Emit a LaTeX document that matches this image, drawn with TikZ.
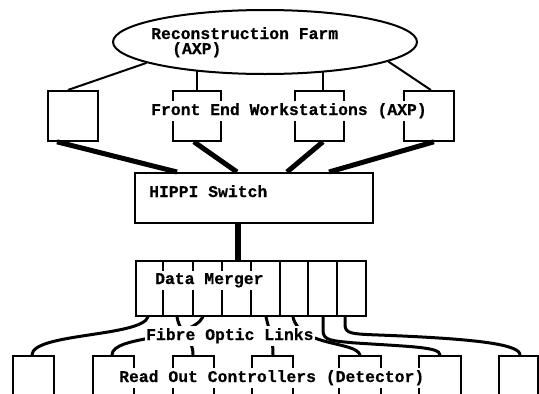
\documentclass[tikz,border=0pt]{standalone}
\usepackage{fontspec}
\newfontfamily\courfont{Liberation Mono}[BoldFeatures={FakeBold=0.6}]
\usetikzlibrary{calc,backgrounds,shapes.geometric}
\tikzset{
  box/.style={draw, line width=1.8pt, anchor=north west, inner sep=0pt},
  lbl/.style={font=\courfont\bfseries\fontsize{16.4}{17}\selectfont, anchor=base west,
              inner xsep=1pt, inner ysep=2.5pt},
  lblw/.style={lbl, fill=white},
  tight/.style={inner ysep=0pt},
  thin link/.style={line width=2pt},
  fat link/.style={line width=5pt},
  fibre/.style={line width=3pt, line cap=round},
}
\begin{document}
\begin{tikzpicture}[x=1pt,y=-1pt]
\useasboundingbox (0,0) rectangle (539,394);
\clip (0,0) rectangle (539,394);

% reconstruction farm
\node[draw, ellipse, line width=2pt, fill=white, minimum width=304pt, minimum height=64pt,
      inner sep=0pt] (farm) at (265,42) {};
\node[lbl, tight] (farmtxt) at (150,39) {Reconstruction Farm};
\node[lbl, tight] (farmaxp) at (171,54) {(AXP)};

% front end workstations
\node[box, minimum width=50pt, minimum height=50pt] (ws1) at (47,90) {};
\node[box, minimum width=48pt, minimum height=50pt] (ws2) at (172,90) {};
\node[box, minimum width=49pt, minimum height=50pt] (ws3) at (294,90) {};
\node[box, minimum width=50pt, minimum height=50pt] (ws4) at (403,90) {};
\node[lblw] (wstxt) at (150,115) {Front End Workstations (AXP)};

% HIPPI switch
\node[box, minimum width=238pt, minimum height=50pt] (hippi) at (134,172) {};
\node[lbl] (hippitxt) at (148,197) {HIPPI Switch};

% data merger with its eight slots
\node[box, minimum width=230pt, minimum height=55pt] (dm) at (135,260) {};
\foreach \sx in {28,58,87,116,145,173,202}
  \draw[line width=1.6pt] ([xshift=\sx pt]dm.north west) -- ([xshift=\sx pt]dm.south west);
\node[lblw] (dmtxt) at (154,284) {Data Merger};

% read out controllers (running off the bottom)
\foreach \n/\bx/\bw in {1/12/41, 2/92/41, 3/172/41, 4/251/41, 5/338/42, 6/418/42, 7/498/39}
  \node[box, minimum width=\bw pt, minimum height=60pt] (roc\n) at (\bx,355) {};

% links drawn underneath the boxes and labels
\begin{pgfonlayer}{background}
  \fill[white] (0,0) rectangle (539,394);

  \draw[thin link] ([xshift=-5pt]ws1.north) -- (farm.190);
  \draw[thin link] (ws2.north) -- ++(0,-25);
  \draw[thin link] ([xshift=3.5pt]ws3.north) -- ++(0,-25);
  \draw[thin link] ([xshift=2pt]ws4.north) -- (farm.351);

  \draw[fat link] ([xshift=10pt]ws1.south west) -- ([xshift=43pt]hippi.north west);
  \draw[fat link] ([xshift=-3pt]ws2.south) -- ([xshift=103pt]hippi.north west);
  \draw[fat link] ([xshift=3.5pt]ws3.south) -- ([xshift=153pt]hippi.north west);
  \draw[fat link] ([xshift=5pt]ws4.south) -- ([xshift=195pt]hippi.north west);

  \draw[line width=6pt] ([xshift=104pt]hippi.south west) -- ([xshift=103pt]dm.north west);

  % fibre optic links
  \draw[fibre] ([xshift=13pt]dm.south west) .. controls +(-6,20) and +(0,-22) .. ([xshift=20pt]roc1.north west);
  \draw[fibre] ([xshift=68pt]dm.south west) .. controls +(-12,24) and +(0,-20) .. ([xshift=20pt]roc2.north west);
  \draw[fibre] ([xshift=42pt]dm.south west) .. controls +(3,18) and +(0,-18) .. ([xshift=21pt]roc3.north west);
  \draw[fibre] ([xshift=131pt]dm.south west) .. controls +(4,18) and +(0,-18) .. ([xshift=22pt]roc4.north west);
  \draw[fibre] ([xshift=158pt]dm.south west) .. controls +(6,30) and +(-4,-14) .. ([xshift=22pt]roc5.north west);
  \draw[fibre] ([xshift=188pt]dm.south west) -- ++(0,14)
     .. controls +(0,10) and +(-20,-2) .. ++(30,12)
     .. controls +(60,4) and +(0,-8) .. ([xshift=22pt]roc6.north west);
  \draw[fibre] ([xshift=210pt]dm.south west) -- ++(0,8)
     .. controls +(0,9) and +(-20,-1) .. ++(28,10)
     .. controls +(110,4) and +(0,-10) .. ([xshift=22pt]roc7.north west);
\end{pgfonlayer}

\node[lblw] (fibretxt) at (145,340) {Fibre Optic Links};
\node[lblw] (roctxt) at (118,382) {Read Out Controllers (Detector)};
\end{tikzpicture}
\end{document}
